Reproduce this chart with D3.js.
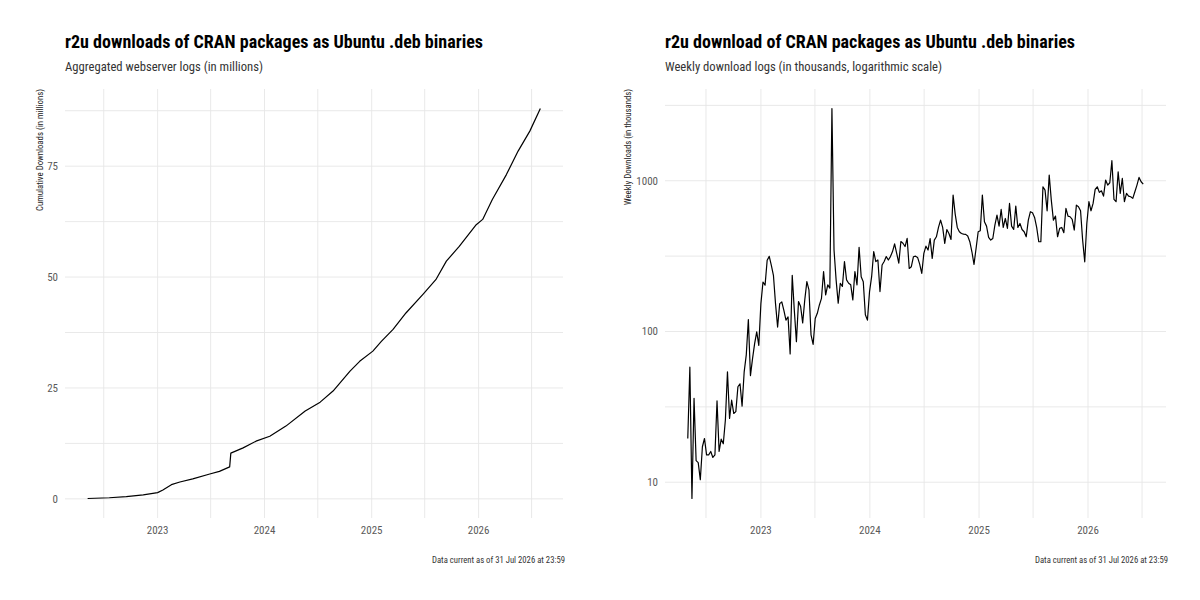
<!DOCTYPE html>
<html><head><meta charset="utf-8">
<script src="https://cdn.jsdelivr.net/npm/d3@7"></script>
<style>body{margin:0;background:#fff}svg{display:block}</style>
</head><body><svg id="c" width="1200" height="600"></svg>
<script>
// ---------- data ----------
const cumDates = ["2022-05-07","2022-07-20","2022-09-16","2022-11-13","2023-01-01","2023-01-19","2023-02-17","2023-03-18","2023-05-01","2023-06-28","2023-07-31","2023-09-04","2023-09-08","2023-10-20","2023-12-03","2024-01-19","2024-03-14","2024-05-19","2024-07-09","2024-08-22","2024-10-19","2024-11-21","2025-01-05","2025-02-03","2025-03-15","2025-04-28","2025-06-25","2025-08-08","2025-09-13","2025-10-27","2025-12-24","2026-01-15","2026-02-17","2026-04-06","2026-05-16","2026-06-25","2026-07-31"];
const cumValues = [0.08,0.25,0.5,0.9,1.4,2.0,3.2,3.8,4.5,5.6,6.2,7.2,10.3,11.5,13.0,14.1,16.4,19.8,21.8,24.3,28.8,31.0,33.3,35.5,38.2,41.9,46.1,49.4,53.6,56.9,61.8,63.0,67.5,73.1,78.4,82.9,88.0];

const weeklyStart = "2022-05-01";
const weeklyValues = [
 19.5,58,7.8,36,13.9,13.5,10.4,17.2,19.5,15.2,15.2,16,14.6,15.2,34.6,16,19.3,18,25.9,54,26.5,35,28.6,29.4,43,45,32,54,70,120,51,66,83,99.5,81,153,213,203,297,315,275,236,153,107,153,157,138,119,125,71,236,138,85.5,
 158,147,114,162,214,189,95,82,122,132,150,166,250,175,204,194,3015,348,220,154,209,199,291,220,209,204,162,250,204,362,231,214,129,119,184,231,339,291,298,184,276,291,314,298,314,339,381,330,284,395,385,366,415,262,
 269,313,316,310,280,243,330,368,347,414,305,404,425,490,548,490,384,475,447,408,803,601,490,459,447,443,441,430,394,338,279,356,459,466,803,535,500,421,404,414,508,592,500,645,490,562,483,707,500,475,679,490,521,475,459,425,548,623,
 613,571,490,394,394,912,867,632,1090,744,548,583,425,483,490,452,655,583,577,554,471,689,672,632,404,290,521,726,632,707,876,912,837,858,791,1010,936,970,1358,752,726,1147,824,1036,726,824,791,783,764,845,936,1052,985,950
];

const yearTicks = ["2023-01-01","2024-01-01","2025-01-01","2026-01-01"];
const yearMinor = ["2022-07-01","2023-07-01","2024-07-01","2025-07-01","2026-07-01"];
const cumTicks = [0,25,50,75];
const cumMinor = [12.5,37.5,62.5,87.5];
const weeklyTicks = [10,100,1000];
const weeklyMinor = [3.1623,31.623,316.23,3162.3];

const leftTitle = "r2u downloads of CRAN packages as Ubuntu .deb binaries";
const leftSubtitle = "Aggregated webserver logs (in millions)";
const leftYTitle = "Cumulative Downloads (in millions)";
const rightTitle = "r2u download of CRAN packages as Ubuntu .deb binaries";
const rightSubtitle = "Weekly download logs (in thousands, logarithmic scale)";
const rightYTitle = "Weekly Downloads (in thousands)";
const captionText = "Data current as of 31 Jul 2026 at 23:59";

// ---------- drawing ----------
const parse = d3.utcParse("%Y-%m-%d");
const FONT = "'Roboto Condensed','Liberation Sans Narrow','DejaVu Sans Condensed',Roboto,sans-serif";
const svg = d3.select("#c");
svg.append("rect").attr("width",1200).attr("height",600).attr("fill","#fff");

const cumData = cumDates.map((d,i)=>({date:parse(d), v:cumValues[i]}));
const wStart = parse(weeklyStart);
const weeklyData = weeklyValues.map((v,i)=>({date:d3.utcWeek.offset(wStart,i), v}));

function expandLin(ext){const r=ext[1]-ext[0];return [ext[0]-0.05*r, ext[1]+0.05*r];}

function panel(o){
  const g = svg.append("g").attr("transform",`translate(${o.ox},0)`);
  const L = 65, R = o.right, T = 89, B = 518;
  const xe = d3.extent(o.data,d=>d.date);
  const span = xe[1]-xe[0];
  const x = d3.scaleUtc().domain([new Date(+xe[0]-0.05*span), new Date(+xe[1]+0.05*span)]).range([L,R]);
  let y;
  if(o.log){
    const le = d3.extent(o.data,d=>Math.log10(d.v));
    const ld = expandLin(le);
    y = d3.scaleLog().domain([10**ld[0],10**ld[1]]).range([B,T]);
  } else {
    y = d3.scaleLinear().domain(expandLin(d3.extent(o.data,d=>d.v))).range([B,T]);
  }
  const grid = g.append("g").attr("stroke","#e6e6e6").attr("stroke-width",0.9);
  const [y0,y1] = y.domain();
  o.minor.concat(o.ticks).filter(v=>v>=y0&&v<=y1).forEach(v=>{
    grid.append("line").attr("x1",L).attr("x2",R).attr("y1",y(v)).attr("y2",y(v));
  });
  const xd = x.domain();
  yearMinor.concat(yearTicks).map(parse).filter(d=>d>=xd[0]&&d<=xd[1]).forEach(d=>{
    grid.append("line").attr("x1",x(d)).attr("x2",x(d)).attr("y1",T).attr("y2",B);
  });
  // line
  const line = d3.line().x(d=>x(d.date)).y(d=>y(d.v));
  g.append("path").datum(o.data).attr("d",line).attr("fill","none")
    .attr("stroke","#000").attr("stroke-width",1.2).attr("stroke-linejoin","round");
  // y tick labels
  g.append("g").selectAll("text").data(o.ticks).join("text")
    .attr("x",L-7).attr("y",d=>y(d)).attr("dy","0.35em").attr("text-anchor","end")
    .attr("font-family",FONT).attr("font-size",11).attr("fill","#5a5a5a").text(d=>d3.format("d")(d));
  // x tick labels
  g.append("g").selectAll("text").data(yearTicks.map(parse)).join("text")
    .attr("x",d=>x(d)).attr("y",534).attr("text-anchor","middle")
    .attr("font-family",FONT).attr("font-size",11).attr("fill","#5a5a5a").text(d=>d3.utcFormat("%Y")(d));
  // titles
  g.append("text").attr("x",L).attr("y",48).attr("font-family",FONT).attr("font-weight","bold")
    .attr("font-size",18.5).attr("fill","#000").attr("textLength",o.titleW).attr("lengthAdjust","spacingAndGlyphs").text(o.title);
  g.append("text").attr("x",L).attr("y",71).attr("font-family",FONT)
    .attr("font-size",12.5).attr("fill","#333").attr("textLength",o.subW).attr("lengthAdjust","spacingAndGlyphs").text(o.subtitle);
  g.append("text").attr("transform",`translate(${o.ytx},${T}) rotate(-90)`).attr("text-anchor","end")
    .attr("font-family",FONT).attr("font-size",8.5).attr("fill","#222").attr("dy","0.35em")
    .attr("textLength",o.ytW).attr("lengthAdjust","spacingAndGlyphs").text(o.ytitle);
  g.append("text").attr("x",R+2).attr("y",563).attr("text-anchor","end").attr("font-family",FONT)
    .attr("font-size",8.5).attr("fill","#333").attr("textLength",133).attr("lengthAdjust","spacingAndGlyphs").text(captionText);
}

panel({ox:0, right:563, data:cumData, log:false, ticks:cumTicks, minor:cumMinor,
  title:leftTitle, subtitle:leftSubtitle, ytitle:leftYTitle, titleW:418, subW:198, ytx:40, ytW:122});
panel({ox:600, right:566, data:weeklyData, log:true, ticks:weeklyTicks, minor:weeklyMinor,
  title:rightTitle, subtitle:rightSubtitle, ytitle:rightYTitle, titleW:410, subW:277, ytx:28, ytW:116});
</script></body></html>
